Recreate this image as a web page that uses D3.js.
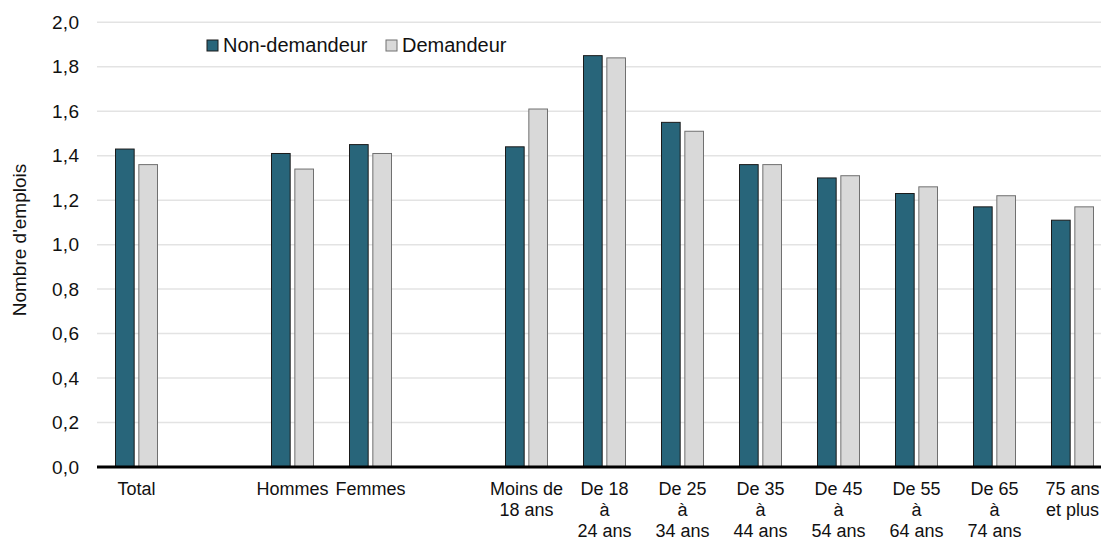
<!DOCTYPE html>
<html>
<head>
<meta charset="utf-8">
<script src="https://cdn.jsdelivr.net/npm/d3@7"></script>
<style>
  body { margin: 0; background: #fff; }
  text { font-family: "Liberation Sans", Arial, sans-serif; fill: #111; }
</style>
</head>
<body>
<div class="chart"></div>
<script>
// categories (blank slots keep the gaps between groups)
var categories = ["Total", "gap1", "Hommes", "Femmes", "gap2", "Moins de 18 ans",
  "De 18 à 24 ans", "De 25 à 34 ans", "De 35 à 44 ans", "De 45 à 54 ans",
  "De 55 à 64 ans", "De 65 à 74 ans", "75 ans et plus"];

// tick labels, line by line
var categoryLabels = [["Total"], [], ["Hommes"], ["Femmes"], [], ["Moins de", "18 ans"],
  ["De 18", "à", "24 ans"], ["De 25", "à", "34 ans"], ["De 35", "à", "44 ans"],
  ["De 45", "à", "54 ans"], ["De 55", "à", "64 ans"], ["De 65", "à", "74 ans"],
  ["75 ans", "et plus"]];

var seriesNames = ["Non-demandeur", "Demandeur"];
var nonDemandeur = [1.43, null, 1.41, 1.45, null, 1.44, 1.85, 1.55, 1.36, 1.30, 1.23, 1.17, 1.11];
var demandeur    = [1.36, null, 1.34, 1.41, null, 1.61, 1.84, 1.51, 1.36, 1.31, 1.26, 1.22, 1.17];

var yTicks = [0, 0.2, 0.4, 0.6, 0.8, 1.0, 1.2, 1.4, 1.6, 1.8, 2.0];

var svgWidth = 1101;
var svgHeight = 540;

var svg = d3.select(".chart")
  .append("svg")
  .attr("width", svgWidth)
  .attr("height", svgHeight);

// scales
var xScale = d3.scaleBand()
  .domain(categories)
  .range([97.5, 1111.5])
  .padding(0);

var x1 = d3.scaleBand()
  .domain(seriesNames)
  .range([xScale.bandwidth() / 2 - 21, xScale.bandwidth() / 2 + 21])
  .paddingInner(0.2);

var yScale = d3.scaleLinear()
  .domain([0, 2])
  .range([467, 22.3]);

var colors = { "Non-demandeur": "#28657a", "Demandeur": "#d9d9d9" };
var strokes = { "Non-demandeur": "#1b1b1b", "Demandeur": "#707070" };

// gridlines
svg.append("g")
  .selectAll("line")
  .data(yTicks.filter(d => d > 0))
  .enter()
  .append("line")
  .attr("x1", 97)
  .attr("x2", svgWidth)
  .attr("y1", d => yScale(d))
  .attr("y2", d => yScale(d))
  .attr("stroke", "#e3e3e3")
  .attr("stroke-width", 1.5);

// y axis labels
var yAxis = d3.axisLeft(yScale)
  .tickValues(yTicks)
  .tickSize(0)
  .tickPadding(17.5)
  .tickFormat(d => d3.format(".1f")(d).replace(".", ","));

var yAxisG = svg.append("g")
  .attr("transform", "translate(97, 0)")
  .call(yAxis);
yAxisG.select(".domain").remove();
yAxisG.selectAll("text")
  .attr("font-size", "19px")
  .attr("letter-spacing", "0.4px")
  .attr("font-family", "Liberation Sans, Arial, sans-serif")
  .attr("fill", "#111");

// bars
var data = categories.map(function(c, i) {
  return { cat: c, values: [
    { name: "Non-demandeur", value: nonDemandeur[i] },
    { name: "Demandeur", value: demandeur[i] }
  ]};
}).filter(d => d.values[0].value !== null);

svg.append("g")
  .selectAll("g")
  .data(data)
  .enter()
  .append("g")
  .attr("transform", d => `translate(${xScale(d.cat)}, 0)`)
  .selectAll("rect")
  .data(d => d.values)
  .enter()
  .append("rect")
  .attr("x", d => x1(d.name))
  .attr("y", d => yScale(d.value))
  .attr("width", x1.bandwidth())
  .attr("height", d => yScale(0) - yScale(d.value))
  .attr("fill", d => colors[d.name])
  .attr("stroke", d => strokes[d.name])
  .attr("stroke-width", 1);

// x axis line
svg.append("line")
  .attr("x1", 97)
  .attr("x2", svgWidth)
  .attr("y1", yScale(0))
  .attr("y2", yScale(0))
  .attr("stroke", "#000")
  .attr("stroke-width", 3);

// x labels
var xLabels = svg.append("g")
  .selectAll("text")
  .data(categories)
  .enter()
  .append("text")
  .attr("text-anchor", "middle")
  .attr("font-size", "18px")
  .attr("x", d => xScale(d) + xScale.bandwidth() / 2)
  .attr("y", 495);

xLabels.selectAll("tspan")
  .data((d, i) => categoryLabels[i])
  .enter()
  .append("tspan")
  .attr("x", function() { return d3.select(this.parentNode).attr("x"); })
  .attr("dy", (d, i) => i === 0 ? 0 : 21)
  .text(d => d);

// y title
svg.append("text")
  .attr("transform", "translate(25.5, 240) rotate(-90)")
  .attr("text-anchor", "middle")
  .attr("font-size", "19px")
  .text("Nombre d'emplois");

// legend
var legendPos = [207, 386];
var legend = svg.append("g")
  .selectAll("g")
  .data(seriesNames)
  .enter()
  .append("g")
  .attr("transform", (d, i) => `translate(${legendPos[i]}, 40)`);

legend.append("rect")
  .attr("width", 11)
  .attr("height", 11)
  .attr("fill", d => colors[d])
  .attr("stroke", d => strokes[d])
  .attr("stroke-width", 1);

legend.append("text")
  .attr("x", 16)
  .attr("y", 11.5)
  .attr("font-size", "20px")
  .text(d => d);
</script>
</body>
</html>
